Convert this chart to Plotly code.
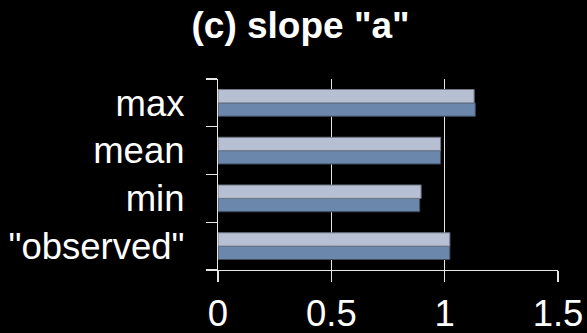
import plotly.graph_objects as go

categories = ['"observed"', "min", "mean", "max"]
series_dark = [1.023, 0.890, 0.982, 1.135]
series_light = [1.023, 0.896, 0.982, 1.130]
x_ticks = [0, 0.5, 1, 1.5]
x_tick_labels = ["0", "0.5", "1", "1.5"]
title_text = '(c) slope "a"'

FONT = "Liberation Sans, Arial, sans-serif"

fig = go.Figure()
fig.add_trace(go.Bar(
    y=categories, x=series_dark, orientation="h", name="dark",
    marker=dict(color="#6b88ac", line=dict(color="#3e4a5c", width=1)),
))
fig.add_trace(go.Bar(
    y=categories, x=series_light, orientation="h", name="light",
    marker=dict(color="#b7c0d2", line=dict(color="#6e7686", width=1)),
))

fig.update_layout(
    width=587, height=333,
    paper_bgcolor="black", plot_bgcolor="black",
    barmode="group", bargap=0.44, bargroupgap=0,
    showlegend=False,
    margin=dict(l=218, r=29, t=79, b=63),
    font=dict(family=FONT, color="white", size=36),
    title=dict(text="<b>" + title_text + "</b>", x=0.512, xanchor="center",
               y=0.885, yanchor="bottom",
               font=dict(family=FONT, size=37, color="white")),
    xaxis=dict(range=[0, 1.5], tickvals=x_ticks, ticktext=x_tick_labels,
               showgrid=True, gridcolor="#e6e6e6", gridwidth=1.2,
               zeroline=False, showline=True, linecolor="#e6e6e6", linewidth=1.2,
               ticks="outside", ticklen=11, tickcolor="#e6e6e6", tickwidth=1.2,
               automargin=False,
               tickfont=dict(size=36.5, family=FONT, color="white"), fixedrange=True),
    yaxis=dict(showgrid=False, zeroline=False, showline=True,
               linecolor="#e6e6e6", linewidth=1.2, automargin=False,
               ticks="outside", tickson="boundaries", ticklen=11,
               tickcolor="#e6e6e6", tickwidth=1.2, ticklabelstandoff=25,
               tickfont=dict(size=36.5, family=FONT, color="white"),
               categoryorder="array", categoryarray=categories, fixedrange=True),
)

fig.write_html(
    "out.html",
    config={"displayModeBar": False, "staticPlot": True},
    post_script="document.body.style.margin='0';document.body.style.background='black';",
)
